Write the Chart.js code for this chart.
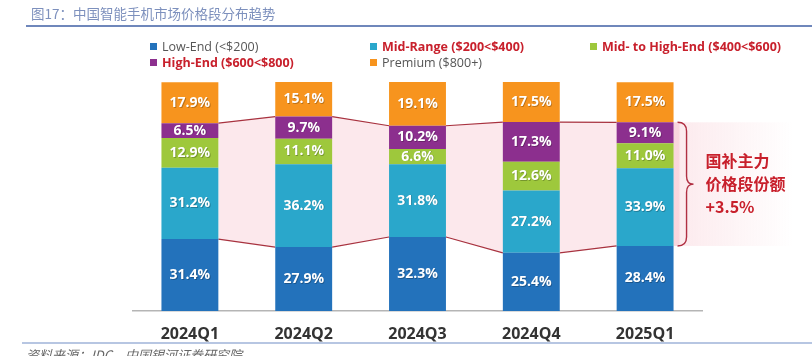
<!DOCTYPE html>
<html>
<head>
<meta charset="utf-8">
<script src="https://cdn.jsdelivr.net/npm/chart.js@4.4.1/dist/chart.umd.min.js"></script>
<style>
  html, body { margin: 0; padding: 0; background: #fff; }
  #wrap { position: relative; width: 812px; height: 356px; overflow: hidden; }
  #c { position: absolute; left: 0; top: 0; }
  #title { position: absolute; left: 31px; top: 3px; font: 13.5px "Noto Sans CJK SC", sans-serif; color: #7d90bd; white-space: nowrap; }
  #titleLine { position: absolute; left: 26px; top: 25px; width: 786px; height: 2px; background: #6f87bb; }
  #footLine { position: absolute; left: 22px; top: 342px; width: 790px; height: 2px; background: #b7c6e2; }
  #foot { position: absolute; left: 26px; top: 345px; font: italic 13px "Noto Sans CJK SC", sans-serif; color: #666; white-space: nowrap; }
  #legend { position: absolute; left: 150px; top: 39px; display: grid; grid-template-columns: 220px 220px 220px; row-gap: 1px; }
  .li { display: flex; align-items: center; height: 15px; font: 12.5px "Open Sans", sans-serif; color: #555; white-space: nowrap; }
  .li.hl { color: #c8202c; font-weight: bold; }
  .sw { width: 7px; height: 7px; margin-right: 5px; flex: none; }
</style>
</head>
<body>
<div id="wrap">
  <canvas id="c" width="812" height="356"></canvas>
  <div id="title"></div>
  <div id="titleLine"></div>
  <div id="legend"></div>
  <div id="footLine"></div>
  <div id="foot"></div>
</div>
<script>
const titleText = '图17：中国智能手机市场价格段分布趋势';
const footText = '资料来源：IDC，中国银河证券研究院';
const categories = ['2024Q1', '2024Q2', '2024Q3', '2024Q4', '2025Q1'];
const seriesNames = ['Low-End (<$200)', 'Mid-Range ($200<$400)', 'Mid- to High-End ($400<$600)', 'High-End ($600<$800)', 'Premium ($800+)'];
const seriesHighlight = [false, true, true, true, false];
const seriesColors = ['#2372bb', '#2aa7cb', '#9ec83c', '#8c2f8e', '#f7941e'];
const lowEnd   = [31.4, 27.9, 32.3, 25.4, 28.4];
const midRange = [31.2, 36.2, 31.8, 27.2, 33.9];
const midHigh  = [12.9, 11.1, 6.6, 12.6, 11.0];
const highEnd  = [6.5, 9.7, 10.2, 17.3, 9.1];
const premium  = [17.9, 15.1, 19.1, 17.5, 17.5];
const annotationLines = ['国补主力', '价格段份额', '+3.5%'];

document.getElementById('title').textContent = titleText;
document.getElementById('foot').textContent = footText;
const lg = document.getElementById('legend');
seriesNames.forEach((n, i) => {
  const d = document.createElement('div');
  d.className = 'li' + (seriesHighlight[i] ? ' hl' : '');
  const s = document.createElement('span');
  s.className = 'sw'; s.style.background = seriesColors[i];
  d.appendChild(s);
  d.appendChild(document.createTextNode(n));
  lg.appendChild(d);
});

const seriesData = [lowEnd, midRange, midHigh, highEnd, premium];

const bandPlugin = {
  id: 'band',
  beforeDatasetsDraw(chart) {
    const ctx = chart.ctx;
    const low = chart.getDatasetMeta(0).data;
    const high = chart.getDatasetMeta(3).data;
    const n = high.length;
    const L = i => high[i].x - high[i].width / 2;
    const R = i => high[i].x + high[i].width / 2;
    const T = i => high[i].y;
    const B = i => low[i].y;
    const bx = R(n - 1) + 6;
    ctx.save();
    const g = ctx.createLinearGradient(R(n - 1), 0, R(n - 1) + 120, 0);
    g.addColorStop(0, 'rgba(236,120,140,0.16)');
    g.addColorStop(1, 'rgba(236,120,140,0)');
    ctx.fillStyle = g;
    ctx.fillRect(R(n - 1), T(n - 1), 120, B(n - 1) - T(n - 1));
    ctx.beginPath();
    ctx.moveTo(R(0), T(0));
    for (let i = 1; i < n; i++) { ctx.lineTo(L(i), T(i)); ctx.lineTo(R(i), T(i)); }
    ctx.lineTo(bx, T(n - 1));
    ctx.lineTo(bx, B(n - 1));
    for (let i = n - 1; i >= 1; i--) { ctx.lineTo(R(i), B(i)); ctx.lineTo(L(i), B(i)); }
    ctx.lineTo(R(0), B(0));
    ctx.closePath();
    ctx.fillStyle = 'rgba(236,120,140,0.17)';
    ctx.fill();
    ctx.strokeStyle = '#a8323f';
    ctx.lineWidth = 1.2;
    ctx.beginPath();
    for (let i = 0; i < n - 1; i++) {
      ctx.moveTo(R(i), T(i)); ctx.lineTo(L(i + 1), T(i + 1));
      ctx.moveTo(R(i), B(i)); ctx.lineTo(L(i + 1), B(i + 1));
    }
    ctx.stroke();
    ctx.restore();
  },
  afterDatasetsDraw(chart) {
    const ctx = chart.ctx;
    ctx.save();
    ctx.font = 'bold 14px "Open Sans", sans-serif';
    ctx.textAlign = 'center';
    ctx.textBaseline = 'middle';
    chart.data.datasets.forEach((ds, di) => {
      chart.getDatasetMeta(di).data.forEach((el, i) => {
        const y = (el.y + el.base) / 2;
        const t = ds.data[i].toFixed(1) + '%';
        ctx.fillStyle = 'rgba(0,0,0,0.25)';
        ctx.fillText(t, el.x + 0.8, y + 0.8);
        ctx.fillStyle = '#ffffff';
        ctx.fillText(t, el.x, y);
      });
    });
    const low = chart.getDatasetMeta(0).data;
    const high = chart.getDatasetMeta(3).data;
    const n = high.length;
    const x0 = high[n - 1].x + high[n - 1].width / 2 + 4;
    const top = high[n - 1].y, bot = low[n - 1].y;
    const mid = (top + bot) / 2;
    const xs = x0 + 9, xm = x0 + 16;
    ctx.strokeStyle = '#b02f42';
    ctx.lineWidth = 1.4;
    ctx.beginPath();
    ctx.moveTo(x0, top);
    ctx.quadraticCurveTo(xs, top, xs, top + 9);
    ctx.lineTo(xs, mid - 8);
    ctx.quadraticCurveTo(xs, mid, xm, mid);
    ctx.quadraticCurveTo(xs, mid, xs, mid + 8);
    ctx.lineTo(xs, bot - 9);
    ctx.quadraticCurveTo(xs, bot, x0, bot);
    ctx.stroke();
    ctx.fillStyle = '#c8202c';
    ctx.font = 'bold 16px "Noto Sans CJK SC", sans-serif';
    ctx.textAlign = 'left';
    annotationLines.forEach((t, k) => ctx.fillText(t, xm + 12, mid - 23 + k * 23));
    ctx.restore();
  }
};

new Chart(document.getElementById('c'), {
  type: 'bar',
  data: {
    labels: categories,
    datasets: seriesData.map((d, i) => ({
      label: seriesNames[i],
      data: d,
      backgroundColor: seriesColors[i],
      borderWidth: 0,
      categoryPercentage: 1,
      barPercentage: 0.5
    }))
  },
  options: {
    responsive: false,
    animation: false,
    devicePixelRatio: 1,
    layout: { padding: { top: 82, left: 133, right: 110, bottom: 0 } },
    plugins: { legend: { display: false }, tooltip: { enabled: false } },
    scales: {
      x: {
        stacked: true,
        grid: { display: false },
        border: { color: '#b5b5b5', width: 1.5 },
        ticks: { color: '#333', padding: 6, font: { family: '"Open Sans", sans-serif', size: 16, weight: 'bold' } },
        afterFit(s) { s.height = 45; }
      },
      y: { stacked: true, display: false, min: 0, max: 100 }
    }
  },
  plugins: [bandPlugin]
});
</script>
</body>
</html>
